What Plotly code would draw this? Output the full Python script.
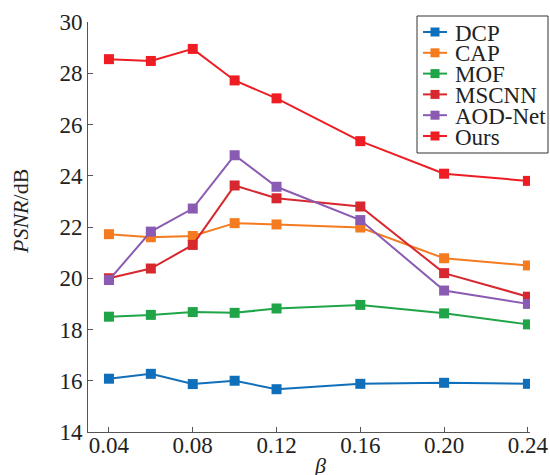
import plotly.graph_objects as go

beta = [0.04, 0.06, 0.08, 0.10, 0.12, 0.16, 0.20, 0.24]
dcp = [16.08, 16.27, 15.87, 16.00, 15.67, 15.88, 15.92, 15.88]
cap = [21.72, 21.60, 21.65, 22.15, 22.10, 21.98, 20.78, 20.50]
mof = [18.50, 18.57, 18.68, 18.65, 18.82, 18.96, 18.63, 18.20]
mscnn = [20.00, 20.38, 21.30, 23.62, 23.12, 22.80, 20.20, 19.28]
aod = [19.93, 21.82, 22.72, 24.80, 23.57, 22.27, 19.52, 19.00]
ours = [28.55, 28.48, 28.95, 27.72, 27.02, 25.35, 24.08, 23.80]

names = ["DCP", "CAP", "MOF", "MSCNN", "AOD-Net", "Ours"]
series = [dcp, cap, mof, mscnn, aod, ours]
colors = ["#0f6fba", "#f47b20", "#1fa548", "#d7282f", "#8a5bb2", "#ee1d23"]

xticks = [0.04, 0.08, 0.12, 0.16, 0.20, 0.24]
xticklabels = ["0.04", "0.08", "0.12", "0.16", "0.20", "0.24"]
yticks = [14, 16, 18, 20, 22, 24, 26, 28, 30]

W, H = 550, 475
SL, SR, ST, SB = 88, 530, 22, 432  # plot area in pixels
L, T = SL, ST
R, B = W - SR, H - SB
PW, PH = W - L - R, H - T - B


def px(sx):
    return (sx - L) / PW


def py(sy):
    return (H - B - sy) / PH


font = "Times New Roman, Liberation Serif, DejaVu Serif, serif"
fig = go.Figure()
for n, s, c in zip(names, series, colors):
    fig.add_trace(go.Scatter(x=beta, y=s, name=n, mode="lines+markers",
                             line=dict(color=c, width=2),
                             marker=dict(symbol="square", size=10, color=c),
                             showlegend=False))

# custom legend (box, symbol, text)
shapes = [dict(type="rect", xref="paper", yref="paper",
               x0=px(417), x1=px(548), y0=py(153), y1=py(16),
               line=dict(color="#333", width=1), fillcolor="white", layer="above")]
annotations = []
row0, step = 32, 20.8
for i, (n, c) in enumerate(zip(names, colors)):
    yc = row0 + i * step
    shapes.append(dict(type="line", xref="paper", yref="paper",
                       x0=px(423), x1=px(447), y0=py(yc), y1=py(yc),
                       line=dict(color=c, width=2), layer="above"))
    shapes.append(dict(type="rect", xref="paper", yref="paper",
                       x0=px(430.5), x1=px(439.5), y0=py(yc + 4.5), y1=py(yc - 4.5),
                       line=dict(color=c, width=0), fillcolor=c, layer="above"))
    annotations.append(dict(text=n, xref="paper", yref="paper", x=px(453), y=py(yc + 1),
                            xanchor="left", yanchor="middle", showarrow=False,
                            font=dict(family=font, size=23, color="#222")))

annotations.append(dict(text="<i>PSNR</i>/dB", xref="paper", yref="paper",
                        x=px(20), y=py(212), textangle=-90, showarrow=False,
                        xanchor="center", yanchor="middle",
                        font=dict(family=font, size=22, color="#222")))
annotations.append(dict(text="<i>β</i>", xref="paper", yref="paper",
                        x=px(320), y=py(465), showarrow=False,
                        xanchor="center", yanchor="middle",
                        font=dict(family=font, size=22, color="#222")))

fig.update_layout(
    width=W, height=H,
    margin=dict(l=L, r=R, t=T, b=B, autoexpand=False),
    paper_bgcolor="white", plot_bgcolor="white",
    font=dict(family=font, size=23, color="#222"),
    showlegend=False,
    shapes=shapes, annotations=annotations,
    xaxis=dict(range=[0.030, 0.241], tickvals=xticks, ticktext=xticklabels,
               ticks="inside", ticklen=5, tickcolor="#555", showgrid=False,
               zeroline=False, showline=True, linecolor="#555", linewidth=1,
               automargin=False, tickfont=dict(family=font, size=23),
               ticklabelstandoff=-8),
    yaxis=dict(range=[14, 30], tickvals=yticks, ticks="inside", ticklen=5,
               tickcolor="#555", showgrid=False, zeroline=False, showline=True,
               linecolor="#555", linewidth=1, automargin=False,
               tickfont=dict(family=font, size=23)),
)
fig.write_html("out.html", config={"displayModeBar": False},
               post_script="document.body.style.margin='0';document.body.style.overflow='hidden';")
